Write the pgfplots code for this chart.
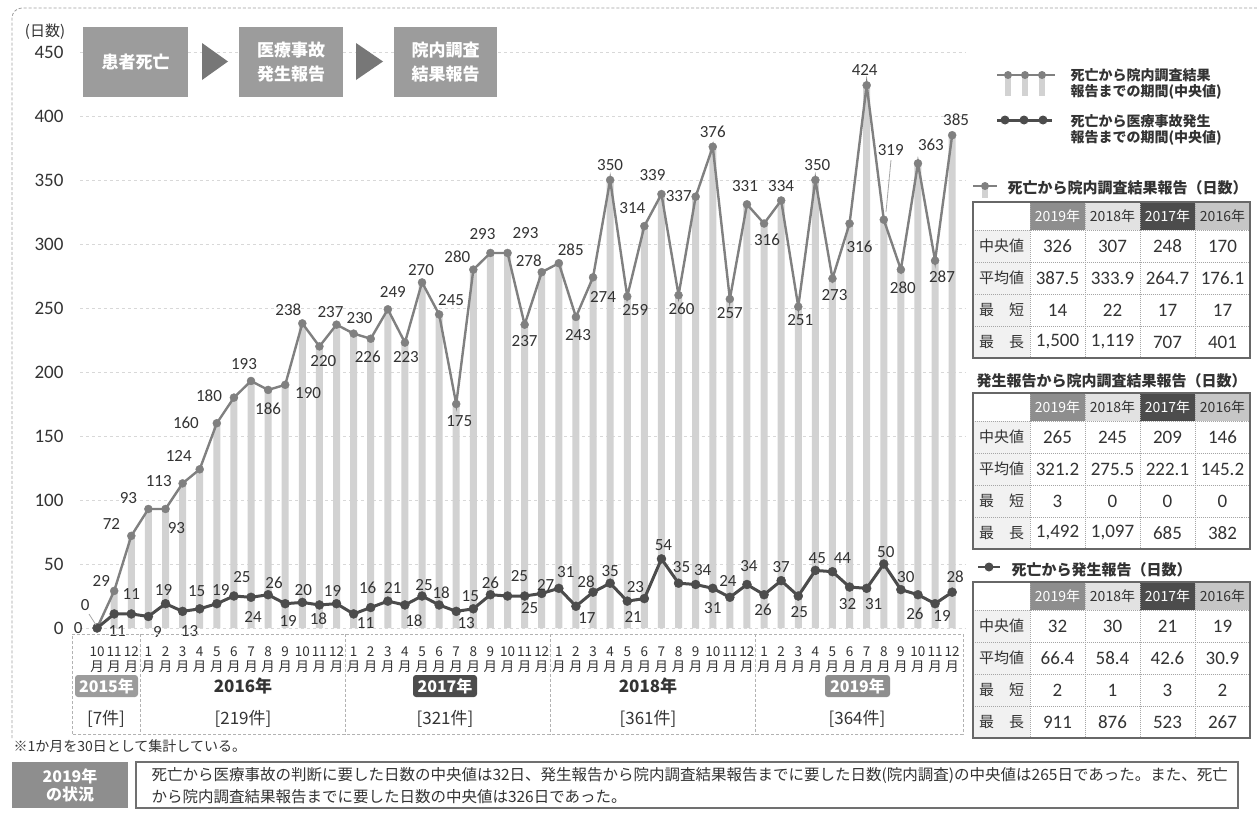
\documentclass[border=0pt]{standalone}
\usepackage{fontspec}
\setmainfont{Carlito}
\newfontfamily\jp{Noto Sans CJK JP}
\usepackage{pgfplots}
\pgfplotsset{compat=1.18}
\usepackage{pgfplotstable}
\definecolor{upline}{HTML}{808080}
\definecolor{loline}{HTML}{4C4C4C}
\definecolor{barc}{HTML}{D2D2D2}
\definecolor{boxg}{HTML}{9C9C9C}
\definecolor{trig}{HTML}{777777}
\definecolor{c19}{HTML}{8E8E8E}
\definecolor{c18}{HTML}{E2E2E2}
\definecolor{c17}{HTML}{4C4C4C}
\definecolor{c16}{HTML}{C6C6C6}
\definecolor{labc}{HTML}{F1F1F1}
\definecolor{gridc}{HTML}{D8D8D8}
\definecolor{txt}{HTML}{333333}
\newcommand\fs[1]{\fontsize{#1bp}{#1bp}\selectfont}
\newcommand\fsl[2]{\fontsize{#1bp}{#2bp}\selectfont}

\pgfplotstableread{
x up dxu dyu lo dxl dyl
0 0 -12 23 0 -19 0
1 29 -13 10 11 3 -17
2 72 -20 12 11 0 20
3 93 -20 11 9 9 -16
4 93 11 -19 19 -2 14
5 113 -24 2 13 7 -20
6 124 -21 13 15 -3 18
7 160 -31 0 19 4 14
8 180 -25 2 25 8 19
9 193 -7 17 24 2 -20
10 186 0 -19 26 6 12
11 190 23 -8 19 3 -17
12 238 -14 14 20 1 12
13 220 4 -15 18 -1 -14
14 237 -6 13 19 -4 13
15 230 6 16 11 12 -9
16 226 -3 -18 16 -3 20
17 249 5 17 21 5 13
18 223 1 -15 18 9 -16
19 270 -1 12 25 2 11
20 245 12 14 18 2 12
21 175 3 -17 13 10 -12
22 280 -16 13 15 -3 13
23 293 -8 19 26 0 12
24 293 18 20 25 12 20
25 237 0 -16 25 5 -12
26 278 -13 11 27 4 8
27 285 12 14 31 7 16
28 243 2 -18 17 11 -12
29 274 10 -20 28 -7 10
30 350 0 15 35 0 12
31 259 8 -14 21 6 -16
32 314 -12 18 23 -9 12
33 339 -9 19 54 2 14
34 260 3 -14 35 3 16
35 337 -17 1 34 7 15
36 376 0 15 31 0 -20
37 257 0 -14 24 -2 16
38 331 -2 18 34 2 19
39 316 3 -16 26 -1 -15
40 334 0 14 37 0 14
41 251 2 -13 25 1 -16
42 350 2 15 45 2 12
43 273 2 -17 44 10 14
44 316 10 -23 32 -2 -17
45 424 -2 15 31 7 -16
46 319 7 70 50 2 12
47 280 2 -18 30 5 13
48 363 13 19 26 -3 -19
49 287 7 -16 19 7 -12
50 385 4 16 28 3 15
}\data

\newcommand\trow[6]{%
  \node[font=\jp\fs{15}, text=txt] at (1001.5,#1) {#2};
  \node[font=\fs{19}, text=txt] at (1057.5,#1) {#3};
  \node[font=\fs{19}, text=txt] at (1112.5,#1) {#4};
  \node[font=\fs{19}, text=txt] at (1167.5,#1) {#5};
  \node[font=\fs{19}, text=txt] at (1222.5,#1) {#6};
}
\newcommand\tframe[1]{%
  \begin{scope}[shift={(0,#1)}]
  \fill[white] (973,0) rectangle (1250,156);
  \fill[labc] (973,28) rectangle (1030,156);
  \fill[c19] (1030,0) rectangle (1085,28);
  \fill[c18] (1085,0) rectangle (1140,28);
  \fill[c17] (1140,0) rectangle (1195,28);
  \fill[c16] (1195,0) rectangle (1250,28);
  \node[font=\jp\fs{14}, text=white] at (1057.5,14) {2019年};
  \node[font=\jp\fs{14}, text=txt] at (1112.5,14) {2018年};
  \node[font=\jp\fs{14}, text=white] at (1167.5,14) {2017年};
  \node[font=\jp\fs{14}, text=txt] at (1222.5,14) {2016年};
  \foreach \yy in {28,60,92,124} \draw[gray!70, densely dotted, line width=1bp] (973,\yy) -- (1250,\yy);
  \foreach \xx in {1030,1085,1140,1195} \draw[gray!70, densely dotted, line width=1bp] (\xx,0) -- (\xx,156);
  \draw[c17!85, line width=2bp] (973,0) rectangle (1250,156);
  \end{scope}}

\begin{document}
\begin{tikzpicture}
\useasboundingbox (0,0) rectangle (1257bp,-826bp);
\fill[white] (0,0) rectangle (1257bp,-826bp);
\begin{axis}[
  at={(80bp,-628bp)}, anchor=south west,
  width=885bp, height=576bp, scale only axis,
  xmin=-1, xmax=50.75, ymin=0, ymax=450,
  clip=false,
  axis line style={draw=none},
  tick style={draw=none},
  ymajorgrids, grid style={gridc, dashed, line width=0.8bp},
  ytick={0,50,...,450},
  /pgf/number format/assume math mode=true,
  yticklabel style={font=\fs{19}, text=txt, xshift=-13bp},
  xtick={0,...,50},
  xticklabels={10\\月,11\\月,12\\月,
    1\\月,2\\月,3\\月,4\\月,5\\月,6\\月,7\\月,8\\月,9\\月,10\\月,11\\月,12\\月,
    1\\月,2\\月,3\\月,4\\月,5\\月,6\\月,7\\月,8\\月,9\\月,10\\月,11\\月,12\\月,
    1\\月,2\\月,3\\月,4\\月,5\\月,6\\月,7\\月,8\\月,9\\月,10\\月,11\\月,12\\月,
    1\\月,2\\月,3\\月,4\\月,5\\月,6\\月,7\\月,8\\月,9\\月,10\\月,11\\月,12\\月},
  xticklabel style={font=\jp\fsl{13.5}{15}, align=center, text=txt, yshift=-15bp, inner xsep=0pt},
]
\addplot[ybar, bar width=7bp, fill=barc, draw=none] table[x=x, y=up]{\data};
\addplot[upline, line width=2.4bp, mark=*, mark size=4bp,
  mark options={fill=upline, draw=upline, line width=0.4bp},
  nodes near coords, point meta=explicit symbolic,
  visualization depends on={\thisrow{dxu} \as \myx},
  visualization depends on={\thisrow{dyu} \as \myy},
  every node near coord/.append style={anchor=center, xshift=\myx, yshift=\myy, font=\fs{17}, text=txt, inner sep=0pt}
] table[x=x, y=up, meta=up]{\data};
\addplot[loline, line width=3bp, mark=*, mark size=4.5bp,
  mark options={fill=loline, draw=loline, line width=0.4bp},
  nodes near coords, point meta=explicit symbolic,
  visualization depends on={\thisrow{dxl} \as \myx},
  visualization depends on={\thisrow{dyl} \as \myy},
  every node near coord/.append style={anchor=center, xshift=\myx, yshift=\myy, font=\fs{17}, text=txt, inner sep=0pt}
] table[x=x, y=lo, meta=lo]{\data};
\end{axis}

\begin{scope}[x=1bp, y=-1bp]
% frame
\draw[gray!75, densely dashed, line width=0.8bp, rounded corners=10bp] (12,738) -- (12,8) -- (1257,8);
% leader lines
\draw[gray!70, line width=0.8bp] (89,614) -- (96,625);
\draw[gray!70, line width=0.8bp] (891,160) -- (886,212);
% y label
\node[font=\jp\fs{15}, text=txt] at (45,32) {(日数)};
% flow boxes
\fill[boxg] (83,27) rectangle (188,97);
\fill[boxg] (239,27) rectangle (343,97);
\fill[boxg] (394,27) rectangle (497,97);
\node[font=\jp\bfseries\fs{17}, text=white] at (135.5,62) {患者死亡};
\node[font=\jp\bfseries\fsl{17}{24}, text=white, align=center] at (291,62) {医療事故\\発生報告};
\node[font=\jp\bfseries\fsl{17}{24}, text=white, align=center] at (445.5,62) {院内調査\\結果報告};
\fill[trig] (202,43) -- (228,61.5) -- (202,80) -- cycle;
\fill[trig] (356,43) -- (383,61.5) -- (356,80) -- cycle;
% legend
\foreach \cx in {1008,1025,1042} \fill[barc] (\cx-3,75) rectangle (\cx+3,96);
\draw[upline, line width=2.4bp] (997,75) -- (1055,75);
\foreach \cx in {1008,1025,1042} \fill[upline] (\cx,75) circle[radius=4bp];
\node[anchor=west, align=left, font=\jp\bfseries\fsl{14}{15.5}, text=txt] at (1067,84) {死亡から院内調査結果\\報告までの期間(中央値)};
\draw[loline, line width=3bp] (997,120) -- (1052,120);
\foreach \cx in {1005,1024,1043} \fill[loline] (\cx,120) circle[radius=4.5bp];
\node[anchor=west, align=left, font=\jp\bfseries\fsl{14}{15.5}, text=txt] at (1067,130) {死亡から医療事故発生\\報告までの期間(中央値)};
% x label area
\draw[gray!60, densely dashed, line width=0.8bp] (72,734) -- (72,634) -- (963,634) -- (963,734) -- cycle;
\foreach \xx in {140,345,550,755} \draw[gray!60, densely dashed, line width=0.8bp] (\xx,634) -- (\xx,734);
\fill[boxg, rounded corners=3bp] (75,675) rectangle (138,697);
\node[font=\jp\bfseries\fs{16}, text=white] at (106.5,686) {2015年};
\node[font=\jp\bfseries\fs{17}, text=txt] at (243,686) {2016年};
\fill[c17, rounded corners=3bp] (413,675) rectangle (477,697);
\node[font=\jp\bfseries\fs{16}, text=white] at (445,686) {2017年};
\node[font=\jp\bfseries\fs{17}, text=txt] at (648,686) {2018年};
\fill[c19, rounded corners=3bp] (825,675) rectangle (890,697);
\node[font=\jp\bfseries\fs{16}, text=white] at (857.5,686) {2019年};
\node[font=\jp\fs{17}, text=txt] at (106,719) {[7件]};
\node[font=\jp\fs{17}, text=txt] at (243,719) {[219件]};
\node[font=\jp\fs{17}, text=txt] at (445,719) {[321件]};
\node[font=\jp\fs{17}, text=txt] at (648,719) {[361件]};
\node[font=\jp\fs{17}, text=txt] at (857,719) {[364件]};
% tables
\draw[upline, line width=2bp] (973,186) -- (997,186);
\fill[barc] (982,186) rectangle (988,198);
\fill[upline] (985,186) circle[radius=4bp];
\node[anchor=west, font=\jp\bfseries\fs{15}, text=txt] at (1004,188) {死亡から院内調査結果報告（日数）};
\tframe{202}
\trow{246}{中央値}{326}{307}{248}{170}
\trow{278}{平均値}{387.5}{333.9}{264.7}{176.1}
\trow{310}{最　短}{14}{22}{17}{17}
\trow{342}{最　長}{1,500}{1,119}{707}{401}
\node[anchor=west, font=\jp\bfseries\fs{15}, text=txt] at (973,381) {発生報告から院内調査結果報告（日数）};
\tframe{393}
\trow{437}{中央値}{265}{245}{209}{146}
\trow{469}{平均値}{321.2}{275.5}{222.1}{145.2}
\trow{501}{最　短}{3}{0}{0}{0}
\trow{533}{最　長}{1,492}{1,097}{685}{382}
\draw[loline, line width=2.5bp] (978,567) -- (1000,567);
\fill[loline] (989,567) circle[radius=4.5bp];
\node[anchor=west, font=\jp\bfseries\fs{15}, text=txt] at (1008,570) {死亡から発生報告（日数）};
\tframe{582}
\trow{626}{中央値}{32}{30}{21}{19}
\trow{658}{平均値}{66.4}{58.4}{42.6}{30.9}
\trow{690}{最　短}{2}{1}{3}{2}
\trow{722}{最　長}{911}{876}{523}{267}
% footer
\node[anchor=west, font=\jp\fs{14}, text=txt] at (10,746) {※1か月を30日として集計している。};
\fill[c19] (12,762) rectangle (128,808);
\node[font=\jp\bfseries\fsl{16}{18}, text=white, align=center] at (70,785) {2019年\\の状況};
\draw[c17!80, line width=1.2bp] (136,762) rectangle (1238,808);
\node[anchor=west, align=left, font=\jp\fsl{15.5}{22}, text=txt] at (148,786) {死亡から医療事故の判断に要した日数の中央値は32日、発生報告から院内調査結果報告までに要した日数(院内調査)の中央値は265日であった。また、死亡\\から院内調査結果報告までに要した日数の中央値は326日であった。};
\end{scope}
\end{tikzpicture}
\end{document}
